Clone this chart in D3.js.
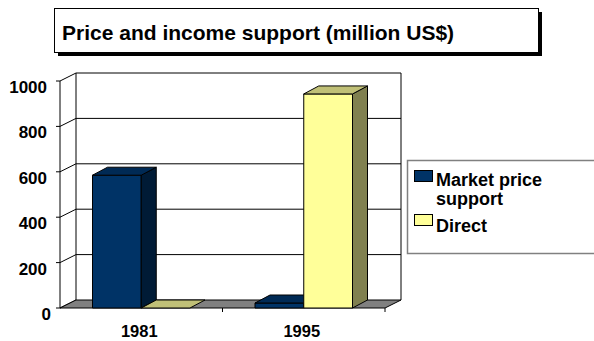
<!DOCTYPE html>
<html>
<head>
<meta charset="utf-8">
<script src="https://cdn.jsdelivr.net/npm/d3@7"></script>
<style>
  html, body { margin: 0; padding: 0; background: #fff; }
  svg { display: block; font-family: "Liberation Sans", Arial, sans-serif; font-weight: bold; }
</style>
</head>
<body>
<svg id="chart" width="594" height="341"></svg>
<script>
// Chart data
const categories = ["1981", "1995"];
const seriesNames = ["Market price support", "Direct"];
const marketPriceSupport = [585, 22];
const directPayments = [0, 943];
const yTicks = [0, 200, 400, 600, 800, 1000];
const titleText = "Price and income support (million US$)";

const seriesValues = [marketPriceSupport, directPayments];
const faceColors = [
  { front: "#003366", top: "#002a55", side: "#001b36" },
  { front: "#ffff99", top: "#c0c077", side: "#808050" }
];

const svg = d3.select("#chart");

// Front plane of the 3D box; back plane is shifted by (depthX, depthY)
const frontLeft = 60, frontRight = 385, frontBottom = 308, frontTop = 81;
const depthX = 16, depthY = -8;
const barDX = 15, barDY = -8;

const x0 = d3.scaleBand().domain(categories).range([frontLeft, frontRight]);
const x1 = d3.scaleBand().domain(seriesNames)
  .range([x0.bandwidth() * 0.2, x0.bandwidth() * 0.8]);
const y = d3.scaleLinear().domain([0, 1000]).range([frontBottom, frontTop]);

const line = d3.line();

// Title box with drop shadow
svg.append("rect").attr("x", 58).attr("y", 12).attr("width", 484).attr("height", 44).attr("fill", "#000");
svg.append("rect").attr("x", 54.5).attr("y", 8.5).attr("width", 484).attr("height", 44)
  .attr("fill", "#fff").attr("stroke", "#000").attr("stroke-width", 1);
svg.append("text").attr("x", 62).attr("y", 40).attr("font-size", 21).attr("fill", "#000").text(titleText);

const grid = svg.append("g").attr("stroke", "#000").attr("stroke-width", 1).attr("fill", "none");

// Back wall gridlines and left wall diagonals
yTicks.forEach(t => {
  const yf = y(t);
  if (t > 0) {
    grid.append("path").attr("d", line([[frontLeft + depthX, yf + depthY], [frontRight + depthX, yf + depthY]]));
  }
  grid.append("path").attr("d", line([[frontLeft, yf], [frontLeft + depthX, yf + depthY]]));
  // left axis tick
  grid.append("path").attr("d", line([[frontLeft - 4, yf], [frontLeft, yf]]));
});

// Wall edges
grid.append("path").attr("d", line([[frontLeft, y(1000)], [frontLeft, y(0)]]));
grid.append("path").attr("d", line([[frontLeft + depthX, y(1000) + depthY], [frontLeft + depthX, y(0) + depthY]]));
grid.append("path").attr("d", line([[frontRight + depthX, y(1000) + depthY], [frontRight + depthX, y(0) + depthY]]));

// Floor
svg.append("path")
  .attr("d", line([[frontLeft, y(0)], [frontRight, y(0)], [frontRight + depthX, y(0) + depthY], [frontLeft + depthX, y(0) + depthY]]) + "Z")
  .attr("fill", "#808080").attr("stroke", "#000").attr("stroke-width", 1);

// Category ticks under the floor
x0.domain().forEach(c => {
  const xr = x0(c) + x0.bandwidth();
  grid.append("path").attr("d", line([[xr, y(0)], [xr, y(0) + 4]]));
});

// 3D columns
const bars = svg.append("g").attr("stroke", "#000").attr("stroke-width", 1).attr("stroke-linejoin", "round");
categories.forEach((cat, ci) => {
  seriesNames.forEach((s, si) => {
    const v = seriesValues[si][ci];
    const xl = x0(cat) + x1(s);
    const xr = xl + x1.bandwidth();
    const yt = y(v), yb = y(0);
    const col = faceColors[si];
    if (v > 0) {
      bars.append("path").attr("fill", col.front)
        .attr("d", line([[xl, yt], [xr, yt], [xr, yb], [xl, yb]]) + "Z");
      bars.append("path").attr("fill", col.side)
        .attr("d", line([[xr, yt], [xr + barDX, yt + barDY], [xr + barDX, yb + barDY], [xr, yb]]) + "Z");
    }
    bars.append("path").attr("fill", col.top)
      .attr("d", line([[xl, yt], [xl + barDX, yt + barDY], [xr + barDX, yt + barDY], [xr, yt]]) + "Z");
  });
});

// Value axis labels
svg.append("g").selectAll("text").data(yTicks).join("text")
  .attr("x", d => d === 0 ? 51 : 47)
  .attr("y", d => y(d) + 12)
  .attr("text-anchor", "end")
  .attr("font-size", 17)
  .text(d => d);

// Category labels
svg.append("g").selectAll("text").data(categories).join("text")
  .attr("x", d => x0(d) + x0.bandwidth() / 2 - 2)
  .attr("y", 337)
  .attr("text-anchor", "middle")
  .attr("font-size", 16.5)
  .text(d => d);

// Legend
const legend = svg.append("g");
legend.append("rect").attr("x", 407.5).attr("y", 160.5).attr("width", 200).attr("height", 93)
  .attr("fill", "#fff").attr("stroke", "#808080").attr("stroke-width", 1.5);
const legendLines = [["Market price", "support"], ["Direct"]];
const legendSwatchY = [170.5, 214.5];
const legendTextY = [186, 232];
seriesNames.forEach((s, i) => {
  legend.append("rect").attr("x", 414.5).attr("y", legendSwatchY[i]).attr("width", 18).attr("height", 11)
    .attr("fill", faceColors[i].front).attr("stroke", "#000").attr("stroke-width", 1);
  const t = legend.append("text").attr("x", 436).attr("y", legendTextY[i]).attr("font-size", 18);
  legendLines[i].forEach((ln, k) => {
    t.append("tspan").attr("x", 436).attr("dy", k === 0 ? 0 : 19).text(ln);
  });
});
</script>
</body>
</html>
